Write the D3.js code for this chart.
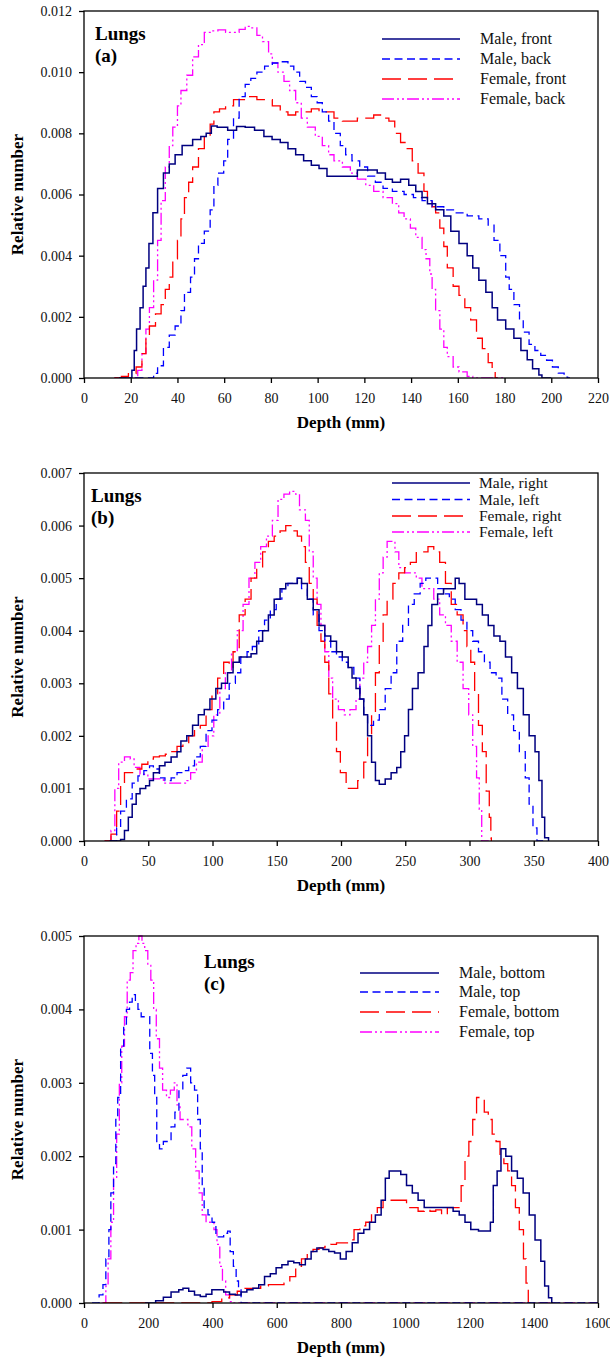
<!DOCTYPE html>
<html>
<head>
<meta charset="utf-8">
<script src="https://cdn.jsdelivr.net/npm/d3@7"></script>
<style>
  body { margin: 0; background: #fff; }
  svg text { font-family: "Liberation Serif", "Times New Roman", "DejaVu Serif", serif; }
</style>
</head>
<body>
<div id="chart"></div>
<script>
// ---- data: [depth (mm), relative number] ----

// (a) front / back
const aXTicks = [0, 20, 40, 60, 80, 100, 120, 140, 160, 180, 200, 220];
const aYTicks = [0, 0.002, 0.004, 0.006, 0.008, 0.010, 0.012];
const aNames = ["Male, front", "Male, back", "Female, front", "Female, back"];
const aMaleFront = [[15,0],[19,0],[20.5,0.00025],[21.5,0.0009],[22.5,0.0016],[24,0.0023],[25.3,0.003],[26.5,0.0036],[27.8,0.0044],[29.5,0.0054],[31.5,0.0062],[34,0.0067],[36.5,0.007],[39,0.0073],[42,0.0076],[46.5,0.0078],[50,0.0079],[52.3,0.008],[54.5,0.00824],[57,0.0082],[61.5,0.0081],[65.3,0.00822],[69,0.0082],[73,0.0081],[77,0.0079],[80.5,0.0078],[84,0.0077],[87.3,0.0075],[90.6,0.0073],[94,0.0071],[97.3,0.00696],[100.6,0.00685],[104,0.0066],[107,0.0066],[110.6,0.0066],[114,0.0066],[117,0.0068],[121.4,0.0068],[125.5,0.0067],[129,0.0065],[132,0.0064],[135.5,0.0065],[139,0.0063],[142,0.0061],[144.7,0.0059],[147,0.0057],[150.5,0.0055],[154,0.0053],[157,0.0048],[160.5,0.0044],[164,0.004],[166.4,0.0036],[169,0.0032],[172,0.0028],[174.7,0.0023],[177,0.0019],[180.5,0.0016],[184,0.0013],[187,0.0009],[189.7,0.0006],[192,0.0003],[194.7,0.0001],[196,0],[200,0]];
const aMaleBack = [[22,0],[26,0],[29.8,0.00015],[31.5,0.0004],[34,0.001],[36.5,0.0014],[39,0.0017],[41.5,0.0022],[43,0.0028],[45.6,0.0033],[47.3,0.0039],[49,0.0044],[51.5,0.0048],[54,0.0055],[55.6,0.0063],[57.3,0.0067],[59.8,0.0071],[61.5,0.0078],[64,0.0085],[66.4,0.0092],[69,0.0096],[71.4,0.0098],[74,0.01],[77.3,0.0102],[80.6,0.0103],[84,0.01034],[87.3,0.0102],[89.8,0.01],[92.3,0.0097],[94.8,0.0095],[97.3,0.0092],[99.8,0.009],[102,0.0087],[104.7,0.0084],[107,0.008],[109.7,0.0076],[112,0.0073],[114.7,0.0071],[118,0.0069],[121.4,0.0066],[124.7,0.0064],[128,0.0062],[132,0.0061],[137,0.006],[141,0.0059],[144.7,0.0058],[149,0.0056],[154,0.0055],[159,0.0054],[164,0.0053],[169,0.0052],[173,0.005],[175.5,0.0045],[178,0.004],[180.5,0.0033],[182,0.0029],[184,0.0024],[186.4,0.0019],[188,0.0015],[190.5,0.0011],[193,0.0009],[195.5,0.00074],[198,0.00058],[200.5,0.00036],[203,0.00016],[205.5,0.00003],[207,0],[208,0]];
const aFemaleFront = [[13,0],[16,0.00005],[19,0.00014],[22.3,0.00036],[24.8,0.0008],[26.5,0.0013],[28,0.0017],[30.6,0.0021],[33,0.0024],[34.8,0.0029],[36.5,0.0033],[38,0.0039],[40,0.0045],[41.5,0.0052],[43,0.0059],[44.8,0.0064],[46.5,0.0069],[49,0.0075],[51.5,0.0079],[54,0.0083],[55.6,0.0087],[58,0.0088],[60.6,0.0089],[64,0.0091],[67.3,0.0091],[70.6,0.0092],[74,0.0091],[77.3,0.0091],[80.6,0.0089],[84,0.0087],[87.3,0.0086],[90.6,0.0087],[94,0.0087],[97.3,0.0088],[100.6,0.0087],[104,0.0087],[107,0.0085],[110.6,0.0084],[114,0.0084],[117,0.0085],[120.6,0.0085],[124,0.0086],[127.5,0.0085],[130.5,0.0084],[133,0.008],[135.5,0.0077],[138,0.0075],[140.5,0.0071],[143,0.0067],[145.5,0.0061],[147,0.0058],[149,0.0056],[150.5,0.0054],[152.3,0.0049],[154,0.0043],[155.5,0.0036],[158,0.003],[160.5,0.0027],[163,0.0023],[165.5,0.0019],[168,0.0013],[170.5,0.00096],[173,0.0005],[174.7,0.0002],[176,0],[177,0]];
const aFemaleBack = [[13,0],[20.6,0],[23,0.00025],[24.8,0.0008],[26.5,0.0016],[28,0.0023],[29.8,0.0032],[31.5,0.0045],[33,0.0058],[34.8,0.0069],[36.5,0.0076],[38,0.0082],[40,0.0089],[41.5,0.0094],[44,0.0099],[46.5,0.0105],[49,0.0109],[51.5,0.0113],[54,0.01135],[57.3,0.01138],[60.6,0.0113],[64,0.0113],[66.4,0.0114],[69,0.0115],[71.4,0.01145],[74,0.0112],[76.4,0.011],[79,0.0106],[80.6,0.0103],[83,0.01],[85.6,0.0097],[88,0.0094],[90.6,0.009],[93,0.0085],[95.6,0.0082],[99,0.0079],[102,0.0076],[104.7,0.0073],[107,0.0071],[110.6,0.0069],[114,0.0067],[117,0.0065],[120.6,0.0063],[124,0.0061],[128,0.0059],[132,0.0057],[134.7,0.0054],[137,0.0052],[139.7,0.0049],[142,0.0046],[144.7,0.0042],[146.4,0.0039],[148,0.0034],[149,0.0029],[150.5,0.0022],[152.3,0.0016],[154,0.001],[155.5,0.0007],[158,0.00036],[160.5,0.0002],[164,0.00005],[166.4,0],[180,0]];

// (b) right / left
const bXTicks = [0, 50, 100, 150, 200, 250, 300, 350, 400];
const bYTicks = [0, 0.001, 0.002, 0.003, 0.004, 0.005, 0.006, 0.007];
const bNames = ["Male, right", "Male, left", "Female, right", "Female, left"];
const bMaleRight = [[20,0],[28.5,0.00003],[31.5,0.0002],[34.5,0.00045],[37.5,0.0007],[40.6,0.0009],[43.6,0.001],[48,0.00105],[51,0.00115],[54,0.0013],[58.7,0.00143],[63,0.0015],[67.8,0.0016],[72.4,0.0017],[75.4,0.0019],[80,0.002],[84.5,0.0022],[89,0.0024],[93.6,0.0025],[98,0.0027],[102.6,0.0029],[107,0.003],[111.7,0.0032],[116,0.0034],[120.8,0.0035],[125.4,0.0035],[130,0.00356],[134.4,0.0038],[139,0.004],[143.5,0.0043],[148,0.0046],[152.6,0.0048],[157,0.0049],[161.7,0.0049],[166,0.005],[169.3,0.0049],[173.8,0.0046],[178.4,0.0044],[182.9,0.0041],[187.4,0.0039],[192,0.0038],[196.5,0.0036],[201,0.0035],[205.6,0.0033],[208.6,0.0031],[211.7,0.0029],[214.7,0.0027],[217.7,0.0024],[220.7,0.002],[223.8,0.0015],[226.8,0.00115],[229.8,0.00108],[234.4,0.00118],[239,0.0013],[243.4,0.0014],[246.5,0.0017],[249.5,0.002],[252.5,0.0025],[255.6,0.0029],[260,0.0032],[264.6,0.0037],[267.7,0.0041],[270.7,0.0045],[275.2,0.0047],[279.8,0.0048],[284.3,0.0048],[288.9,0.005],[291.9,0.0049],[296.4,0.0046],[301,0.0046],[305.5,0.0045],[310,0.0043],[314.6,0.0041],[319,0.0039],[323.7,0.0038],[328,0.0035],[332.8,0.0032],[337.3,0.0029],[341.9,0.0024],[346.4,0.002],[351,0.0017],[354,0.00115],[356.4,0.00045],[358.5,0.00006],[361.5,0],[362,0]];
const bMaleLeft = [[20,0],[22,0],[25.4,0.00025],[28.5,0.00057],[33,0.0008],[37.5,0.0011],[42,0.00124],[46.6,0.00134],[51,0.00143],[54,0.00137],[58.7,0.0012],[63,0.00115],[67.8,0.0012],[72.4,0.0013],[77,0.00134],[81.5,0.00143],[86,0.0016],[90.5,0.0018],[95,0.0021],[99.6,0.0023],[104,0.0025],[108.7,0.0027],[113,0.003],[117.8,0.0032],[122,0.0035],[126.9,0.0036],[131,0.0037],[136,0.004],[140.5,0.0042],[145,0.0044],[149.6,0.0046],[154,0.0048],[158.7,0.0049],[163,0.0049],[166,0.005],[169.3,0.0048],[173.8,0.0046],[178.4,0.0043],[182.9,0.004],[187.4,0.0038],[192,0.0036],[196.5,0.0035],[201,0.0034],[205.6,0.0033],[210,0.0031],[214.7,0.0027],[217.7,0.0024],[220.7,0.0022],[225.3,0.0023],[229.8,0.0025],[234.4,0.0029],[239,0.0032],[243.4,0.0038],[248,0.0041],[252.5,0.0045],[257,0.0047],[261.6,0.0049],[266,0.005],[270.7,0.005],[275.2,0.0048],[279.8,0.0047],[284.3,0.0046],[288.9,0.0044],[293.4,0.0042],[298,0.004],[302.5,0.0038],[307,0.0036],[311.6,0.0034],[316,0.0032],[320.7,0.0031],[325.2,0.0027],[329.7,0.0024],[334.3,0.0021],[338.8,0.0017],[343.4,0.0012],[346.4,0.0007],[349.4,0.00025],[352.5,0],[358,0]];
const bFemaleRight = [[16,0],[21,0.00013],[25.4,0.00057],[28.5,0.0011],[31.5,0.0013],[36,0.0013],[40.6,0.00137],[45,0.00146],[49.7,0.00156],[54,0.0016],[58.7,0.00162],[63.3,0.00165],[67.8,0.0017],[72.4,0.0018],[77,0.00185],[81.5,0.002],[86,0.0021],[90.5,0.0022],[95,0.0025],[99.6,0.0028],[104,0.0031],[108.7,0.0034],[113,0.0033],[116,0.0036],[120.8,0.0043],[125.4,0.0046],[130,0.005],[134.4,0.0052],[139,0.0055],[143.5,0.0057],[148,0.0058],[152.6,0.0059],[157,0.006],[161.7,0.0059],[166,0.0058],[169.3,0.0056],[172.3,0.0053],[175.3,0.0049],[178.4,0.0046],[181.4,0.0041],[184.4,0.0038],[187.4,0.0034],[190.5,0.0028],[193.5,0.0023],[196.5,0.0017],[199.5,0.0013],[204,0.001],[208.6,0.001],[213,0.00115],[217.7,0.0015],[220.7,0.002],[223.8,0.0024],[226.8,0.0032],[229.8,0.0038],[232.8,0.0043],[235.9,0.0046],[240.4,0.0049],[245,0.0051],[249.5,0.0052],[254,0.0053],[258.6,0.0055],[263,0.0055],[267.7,0.0056],[272.2,0.0055],[276.8,0.0053],[281.3,0.0049],[285.8,0.0045],[290.4,0.0043],[295,0.004],[298,0.0037],[301,0.0034],[304,0.0028],[307,0.0022],[310,0.0017],[313,0.00095],[315.4,0.00045],[316.6,0.00006],[317,0]];
const bFemaleLeft = [[16,0],[21,0.0002],[24,0.001],[27,0.0015],[31.5,0.0016],[36,0.00156],[39,0.0014],[43.6,0.00127],[49.7,0.00118],[55.7,0.00118],[61.8,0.0011],[67.8,0.0011],[73.9,0.0011],[80,0.00115],[83,0.0013],[87.5,0.0015],[92,0.0018],[96.6,0.002],[101,0.0024],[105.7,0.0029],[110,0.0032],[114.8,0.0036],[119.3,0.004],[123.8,0.0045],[128.4,0.005],[133,0.0053],[137.5,0.0056],[142,0.0058],[146.6,0.0061],[151,0.0065],[155.6,0.0066],[160,0.00665],[164.7,0.0066],[167.7,0.0063],[172.3,0.0061],[175.3,0.0055],[178.4,0.005],[181.4,0.0045],[184.4,0.0041],[187.4,0.0036],[190.5,0.0031],[193.5,0.0027],[198,0.0025],[202.6,0.0024],[207,0.0025],[211.7,0.0027],[214.7,0.0031],[217.7,0.0034],[220.7,0.0037],[223.8,0.0041],[226.8,0.0046],[229.8,0.0051],[232.8,0.0054],[235.9,0.0057],[239,0.0057],[242,0.0055],[245,0.0052],[249.5,0.0051],[254,0.0051],[258.6,0.005],[263,0.0048],[267.7,0.0048],[272.2,0.0046],[276.8,0.0043],[281.3,0.0041],[285.8,0.0038],[290.4,0.0034],[295,0.0029],[299.4,0.0024],[302.5,0.0018],[305.5,0.0012],[307.6,0.0006],[309.5,0],[315,0]];

// (c) bottom / top
const cXTicks = [0, 200, 400, 600, 800, 1000, 1200, 1400, 1600];
const cYTicks = [0, 0.001, 0.002, 0.003, 0.004, 0.005];
const cNames = ["Male, bottom", "Male, top", "Female, bottom", "Female, top"];
const cMaleBottom = [[190,0],[205,0],[223,0.00003],[247,0.00008],[271,0.00015],[295,0.00018],[308,0.0002],[326,0.00016],[344,0.00011],[362,0.00009],[380,0.00012],[398,0.00018],[417,0.00018],[435,0.00015],[453,0.00012],[471,0.00011],[489,0.00015],[507,0.00018],[526,0.0002],[544,0.00025],[562,0.00036],[580,0.0004],[598,0.00048],[616,0.00052],[635,0.00057],[653,0.00055],[671,0.00052],[689,0.0006],[707,0.0007],[725,0.00075],[744,0.00073],[762,0.0007],[780,0.00068],[798,0.0006],[816,0.0007],[835,0.00082],[853,0.00095],[871,0.001],[889,0.0011],[907,0.0012],[925,0.0014],[938,0.0017],[950,0.0018],[968,0.0018],[986,0.00175],[1004,0.0016],[1022,0.0015],[1040,0.0014],[1059,0.0013],[1077,0.0013],[1095,0.0013],[1113,0.0013],[1131,0.0013],[1149,0.00125],[1168,0.0012],[1186,0.0011],[1204,0.001],[1228,0.00098],[1252,0.00098],[1265,0.0011],[1274,0.0016],[1286,0.0018],[1298,0.0021],[1313,0.002],[1331,0.0018],[1349,0.0017],[1367,0.0015],[1386,0.0012],[1404,0.00086],[1422,0.00057],[1434,0.00023],[1446,0.00007],[1456,0],[1460,0]];
const cMaleTop = [[25,0],[35,0],[47,0.00011],[59,0.00025],[68,0.0006],[77.5,0.001],[83.6,0.0015],[92,0.0019],[99,0.0025],[105,0.0028],[114,0.0035],[123.5,0.0038],[132,0.004],[141.7,0.0041],[150,0.0042],[160,0.0041],[168,0.004],[178,0.0039],[189,0.0039],[198.6,0.0039],[204.7,0.0034],[213,0.0031],[220,0.0028],[226.5,0.0022],[235,0.0021],[247,0.0022],[259,0.0022],[271,0.0024],[283,0.0026],[295.5,0.0029],[307.6,0.0031],[320,0.0032],[332,0.003],[344,0.0029],[353.7,0.0025],[362,0.0021],[368,0.0016],[374,0.0013],[386,0.0012],[398.5,0.0011],[410.6,0.0009],[422.7,0.0009],[434.8,0.00095],[447,0.00098],[455,0.0007],[465,0.0005],[473.6,0.0003],[481,0.00018],[489,0],[1600,0]];
const cFemaleBottom = [[60,0],[380,0],[398.5,0.00002],[428.8,0.00007],[453,0.00011],[477,0.00016],[501,0.0002],[526,0.0002],[550,0.00023],[574,0.00025],[598,0.00025],[622.6,0.00027],[640.7,0.00036],[659,0.0005],[677,0.0006],[695,0.0007],[713,0.00073],[731.6,0.00075],[749.8,0.00077],[768,0.0008],[786,0.00082],[804,0.00082],[822.4,0.00086],[840.6,0.001],[858.8,0.00105],[877,0.0011],[895,0.0012],[913,0.0013],[931,0.0014],[950,0.0014],[968,0.0014],[986,0.0014],[1004,0.0013],[1022,0.0013],[1040,0.00125],[1059,0.00127],[1077,0.00125],[1095,0.00127],[1113,0.0012],[1131,0.0013],[1149,0.0013],[1161.6,0.0013],[1174,0.0016],[1186,0.002],[1198,0.0022],[1210,0.0025],[1222,0.0028],[1234,0.0028],[1246,0.0026],[1258.5,0.0025],[1270.6,0.0023],[1282.7,0.0022],[1295,0.002],[1307,0.0019],[1319,0.0018],[1331,0.0016],[1343,0.0013],[1355,0.001],[1368,0.0006],[1376,0.00027],[1383,0],[1390,0]];
const cFemaleTop = [[55,0],[59,0],[68,0.00023],[75,0.0006],[83.6,0.0011],[92,0.0017],[101.7,0.0023],[110,0.003],[117.5,0.0035],[126,0.0039],[134.5,0.0044],[144,0.0045],[152.6,0.0048],[162,0.0049],[170.8,0.005],[180.5,0.0049],[189,0.0048],[198.6,0.0046],[208,0.0044],[216.8,0.004],[225,0.0036],[235,0.0032],[244.7,0.0029],[256.8,0.0028],[269,0.0029],[281,0.003],[289.5,0.0027],[299,0.0025],[311,0.0025],[323.4,0.0024],[335.5,0.0021],[347.6,0.0018],[358.5,0.0015],[368,0.0012],[380,0.0011],[392,0.0011],[404.5,0.001],[414,0.0008],[422.7,0.0005],[431,0.0003],[441,0.00011],[453,0.00002],[465,0],[1600,0]];

// ---- styling ----
const colors = ["#000080", "#0000ff", "#ff0000", "#ff00ff"];
const dashes = [null, "8,4.5", "19,7", "12,3,2,3,2,3"];
const widths = [1.5, 1.3, 1.3, 1.3];
const serif = '"Liberation Serif", "Times New Roman", "DejaVu Serif", serif';

const left = 84, right = 598;

const panels = [
    { top: 11, bottom: 378, xMax: 220, yMax: 0.012, xTicks: aXTicks, yTicks: aYTicks,
      series: [aMaleFront, aMaleBack, aFemaleFront, aFemaleBack], names: aNames,
      tag: { x: 95, y: 40, text: "(a)" },
      legend: { x1: 382, x2: 460, tx: 480, ys: [39, 59, 79, 99], size: 16 } },
    { top: 473, bottom: 841, xMax: 400, yMax: 0.007, xTicks: bXTicks, yTicks: bYTicks,
      series: [bMaleRight, bMaleLeft, bFemaleRight, bFemaleLeft], names: bNames,
      tag: { x: 91, y: 502, text: "(b)" },
      legend: { x1: 392, x2: 470, tx: 479, ys: [483, 499.5, 516, 532], size: 15.5 } },
    { top: 936, bottom: 1303, xMax: 1600, yMax: 0.005, xTicks: cXTicks, yTicks: cYTicks,
      series: [cMaleBottom, cMaleTop, cFemaleBottom, cFemaleTop], names: cNames,
      tag: { x: 204, y: 968, text: "(c)" },
      legend: { x1: 360, x2: 439, tx: 459, ys: [973, 992, 1012, 1032], size: 16 } }
];

const svg = d3.select("#chart").append("svg")
    .attr("width", 610)
    .attr("height", 1362)
    .attr("font-family", serif);

panels.forEach((p, i) => {
    const x = d3.scaleLinear().domain([0, p.xMax]).range([left, right]);
    const y = d3.scaleLinear().domain([0, p.yMax]).range([p.bottom, p.top]);

    const g = svg.append("g");

    // clip for curves
    g.append("clipPath").attr("id", "clip" + i)
        .append("rect")
        .attr("x", left).attr("y", p.top - 1)
        .attr("width", right - left).attr("height", p.bottom - p.top + 1);

    const line = d3.line()
        .x(d => x(d[0]))
        .y(d => y(d[1]))
        .curve(d3.curveStepAfter);

    // draw in reverse so the navy line sits on top
    [3, 2, 1, 0].forEach(k => {
        g.append("path")
            .datum(p.series[k])
            .attr("clip-path", `url(#clip${i})`)
            .attr("fill", "none")
            .attr("stroke", colors[k])
            .attr("stroke-width", widths[k])
            .attr("stroke-dasharray", dashes[k])
            .attr("d", line);
    });

    // frame
    g.append("rect")
        .attr("x", left).attr("y", p.top)
        .attr("width", right - left).attr("height", p.bottom - p.top)
        .attr("fill", "none").attr("stroke", "#000").attr("stroke-width", 1.3);

    // y axis
    const ya = g.append("g")
        .attr("transform", `translate(${left},0)`)
        .call(d3.axisLeft(y).tickValues(p.yTicks).tickFormat(d3.format(".3f"))
            .tickSize(5).tickSizeOuter(0).tickPadding(7));
    // x axis
    const xa = g.append("g")
        .attr("transform", `translate(0,${p.bottom})`)
        .call(d3.axisBottom(x).tickValues(p.xTicks).tickFormat(d3.format("d"))
            .tickSize(5).tickSizeOuter(0).tickPadding(10));
    [ya, xa].forEach(a => {
        a.attr("font-family", serif).attr("font-size", 14);
        a.select(".domain").remove();
        a.selectAll("line").attr("stroke", "#000").attr("stroke-width", 1.3);
        a.selectAll("text").attr("fill", "#111");
    });

    // axis titles
    g.append("text")
        .attr("x", (left + right) / 2).attr("y", p.bottom + 50)
        .attr("text-anchor", "middle")
        .attr("font-family", serif)
        .attr("font-size", 17).attr("font-weight", "bold")
        .text("Depth (mm)");
    g.append("text")
        .attr("transform", `translate(23,${(p.top + p.bottom) / 2}) rotate(-90)`)
        .attr("text-anchor", "middle")
        .attr("font-family", serif)
        .attr("font-size", 17).attr("font-weight", "bold")
        .text("Relative number");

    // panel tag
    const tag = g.append("text")
        .attr("x", p.tag.x).attr("y", p.tag.y)
        .attr("font-family", serif)
        .attr("font-size", 19).attr("font-weight", "bold");
    tag.append("tspan").attr("x", p.tag.x).text("Lungs");
    tag.append("tspan").attr("x", p.tag.x).attr("dy", 22).text(p.tag.text);

    // legend
    p.names.forEach((name, k) => {
        const ly = p.legend.ys[k];
        g.append("line")
            .attr("x1", p.legend.x1).attr("x2", p.legend.x2)
            .attr("y1", ly).attr("y2", ly)
            .attr("stroke", colors[k])
            .attr("stroke-width", widths[k])
            .attr("stroke-dasharray", dashes[k]);
        g.append("text")
            .attr("x", p.legend.tx).attr("y", ly + 5)
            .attr("font-family", serif)
            .attr("font-size", p.legend.size).attr("fill", "#111")
            .text(name);
    });
});
</script>
</body>
</html>
